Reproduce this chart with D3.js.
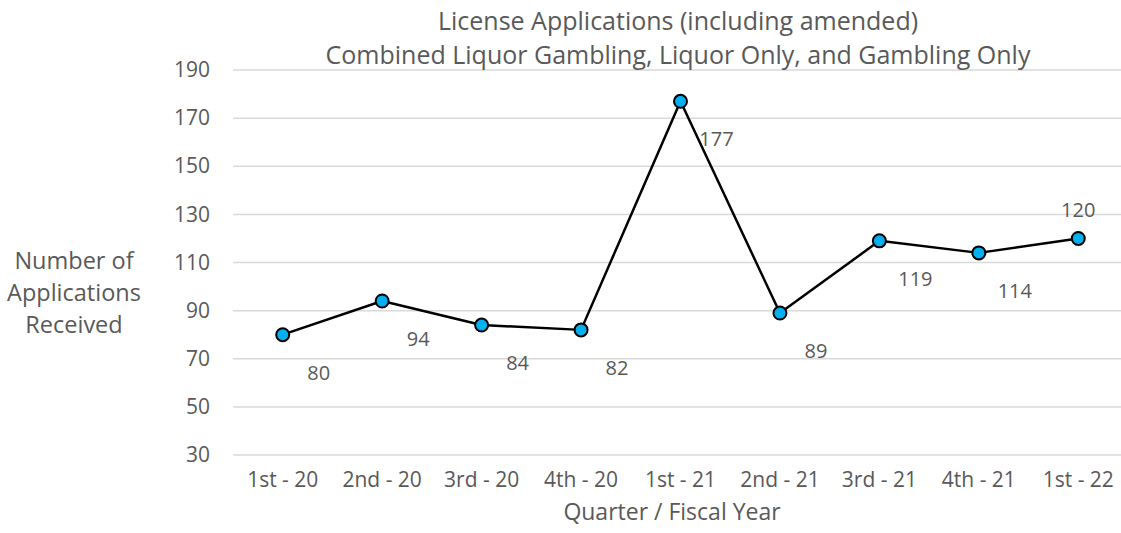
<!DOCTYPE html>
<html><head><meta charset="utf-8">
<script src="https://cdn.jsdelivr.net/npm/d3@7"></script>
<style>
body{margin:0;background:#fff;}
text{font-family:"Open Sans",sans-serif;fill:#595959;}
</style></head>
<body><svg id="chart" width="1121" height="533"></svg>
<script>
const categories = ["1st - 20","2nd - 20","3rd - 20","4th - 20","1st - 21","2nd - 21","3rd - 21","4th - 21","1st - 22"];
const values = [80,94,84,82,177,89,119,114,120];
const yTicks = [30,50,70,90,110,130,150,170,190];
const labelPlacement = ["br","br","br","br","br","br","br","br","t"];
const titleLines = ["License Applications (including amended)","Combined Liquor Gambling, Liquor Only, and Gambling Only"];
const yTitleLines = ["Number of","Applications","Received"];
const xTitle = "Quarter / Fiscal Year";

const svg = d3.select("#chart");
const plotLeft = 233, plotRight = 1128, plotTop = 70, plotBottom = 455;
const x = d3.scaleBand().domain(categories).range([plotLeft, plotRight]);
const y = d3.scaleLinear().domain([30,190]).range([plotBottom, plotTop]);
const font = "'Open Sans',sans-serif";

// gridlines
svg.append("g").selectAll("line").data(yTicks).join("line")
  .attr("x1", plotLeft).attr("x2", 1121)
  .attr("y1", d=>y(d)).attr("y2", d=>y(d))
  .attr("stroke","#d9d9d9").attr("stroke-width",1.5);

// y axis
const yAxis = svg.append("g").attr("transform",`translate(${plotLeft},0)`)
  .call(d3.axisLeft(y).tickValues(yTicks).tickSize(0).tickPadding(23));
yAxis.select(".domain").remove();
yAxis.selectAll("text").style("font-size","21px").style("fill","#595959").style("font-family",font);

// x axis
const xAxis = svg.append("g").attr("transform",`translate(0,${plotBottom})`)
  .call(d3.axisBottom(x).tickSize(0).tickPadding(17));
xAxis.select(".domain").remove();
xAxis.selectAll("text").style("font-size","21px").style("fill","#595959").style("font-family",font);

const cx = d => x(d) + x.bandwidth()/2;

// line
svg.append("path").datum(values)
  .attr("fill","none").attr("stroke","#000").attr("stroke-width",2.5)
  .attr("stroke-linejoin","round")
  .attr("d", d3.line().x((d,i)=>cx(categories[i])).y(d=>y(d)));

// markers
svg.append("g").selectAll("circle").data(values).join("circle")
  .attr("cx",(d,i)=>cx(categories[i])).attr("cy",d=>y(d)).attr("r",6.5)
  .attr("fill","#00b0f0").attr("stroke","#000").attr("stroke-width",2);

// data labels
svg.append("g").selectAll("text").data(values).join("text")
  .attr("x",(d,i)=> cx(categories[i]) + (labelPlacement[i]==="t"?0:36))
  .attr("y",(d,i)=> y(d) + (labelPlacement[i]==="t"?-21:45))
  .attr("text-anchor","middle").style("font-size","20px")
  .text(d=>d);

// title
svg.append("g").selectAll("text").data(titleLines).join("text")
  .attr("x",678).attr("y",(d,i)=>30 + i*34)
  .attr("text-anchor","middle").style("font-size","25px").text(d=>d);

// y title
svg.append("g").selectAll("text").data(yTitleLines).join("text")
  .attr("x",74).attr("y",(d,i)=>269 + i*32)
  .attr("text-anchor","middle").style("font-size","23.5px").text(d=>d);

// x title
svg.append("text").attr("x",672).attr("y",520).attr("text-anchor","middle")
  .style("font-size","23px").text(xTitle);
</script></body></html>
